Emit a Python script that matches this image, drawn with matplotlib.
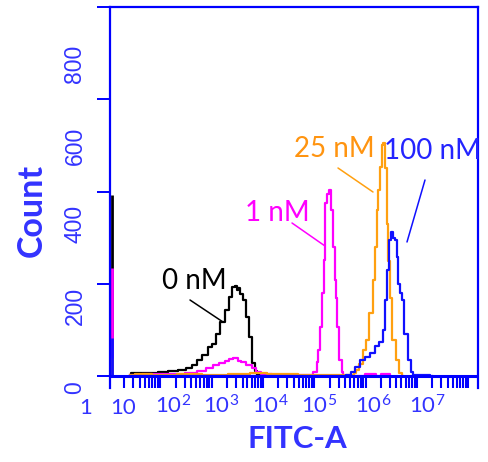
import numpy as np
import matplotlib.pyplot as plt
from matplotlib.ticker import LogLocator

# --- data (x in log10 FITC units, y in counts)
x_0nM = [1.40, 1.45, 1.65, 1.85, 2.05, 2.23, 2.42, 2.56, 2.66, 2.75, 2.88, 2.98, 3.05, 3.12,
         3.21, 3.31, 3.37, 3.44, 3.47, 3.50, 3.53, 3.58, 3.63, 3.69, 3.76, 3.83, 3.86, 3.92, 4.00]
y_0nM = [0, 6, 7, 7, 8, 11, 13, 18, 24, 34, 45, 62, 70, 92,
         118, 143, 172, 192, 196, 186, 190, 178, 165, 128, 85, 28, 10, 3, 0]

x_1nM = [1.40, 1.80, 2.30, 2.60, 2.80, 2.95, 3.10, 3.20, 3.30, 3.37, 3.47, 3.55, 3.60, 3.73,
         3.83, 3.90, 4.00, 4.30, 4.60, 4.90, 5.03, 5.06, 5.09, 5.13, 5.16, 5.20, 5.22, 5.27,
         5.30, 5.34, 5.38, 5.42, 5.44, 5.46, 5.52, 5.55, 5.58, 5.95, 6.03, 6.20, 6.22, 6.36,
         6.46, 6.48]
y_1nM = [3, 4, 5, 6, 10, 17, 24, 28, 33, 36, 38, 33, 31, 24,
         17, 8, 4, 2, 2, 3, 8, 31, 56, 107, 179, 251, 374, 395,
         403, 360, 280, 208, 170, 107, 35, 9, 0, 0, 5, 5, 0, 5,
         5, 0]

x_25nM = [1.40, 1.60, 2.00, 2.50, 3.00, 3.50, 3.90, 4.20, 4.50, 4.80, 5.10, 5.40, 5.75, 5.78,
          5.84, 5.91, 5.99, 6.03, 6.10, 6.17, 6.20, 6.23, 6.26, 6.30, 6.33, 6.36, 6.40, 6.43,
          6.46, 6.49, 6.55, 6.62, 6.68, 6.72]
y_25nM = [3, 4, 3, 4, 3, 4, 6, 5, 4, 3, 2, 2, 2, 6,
          13, 27, 56, 78, 136, 208, 280, 360, 403, 454, 500, 505, 450, 330,
          250, 170, 78, 35, 6, 0]

x_100nM = [1.40, 2.50, 3.50, 4.50, 5.50, 5.70, 5.74, 5.84, 5.94, 6.03, 6.13, 6.23, 6.30, 6.36,
           6.40, 6.44, 6.47, 6.52, 6.56, 6.59, 6.62, 6.66, 6.69, 6.72, 6.78, 6.85, 6.91, 6.95,
           7.00, 7.20, 7.30]
y_100nM = [1, 1, 1, 1, 1, 2, 9, 20, 35, 42, 49, 64, 74, 100,
           165, 230, 295, 313, 300, 295, 259, 200, 179, 165, 92, 35, 9, 3,
           2, 2, 0]

# pile-up of events at the low edge of the axis
spike_x = 1.05
spike_counts = [392, 234, 40, 82]   # 0, 1, 25, 100 nM

labels = ['0 nM', '1 nM', '25 nM', '100 nM']
colors = ['#000000', '#ff00ff', '#ffa010', '#1010ff']
text_colors = ['#000000', '#ff00ff', '#ff9410', '#2424ff']

xtick_labels = ['1', '10', r'$\mathregular{10^{2}}$', r'$\mathregular{10^{3}}$',
                r'$\mathregular{10^{4}}$', r'$\mathregular{10^{5}}$',
                r'$\mathregular{10^{6}}$', r'$\mathregular{10^{7}}$']
ytick_values = [0, 200, 400, 600, 800]

BLUE = '#0000ff'
LBLUE = '#3333ff'
W, H = 488, 462

plt.rcParams['font.family'] = ['Lato', 'DejaVu Sans']
plt.rcParams['mathtext.default'] = 'regular'

fig = plt.figure(figsize=(W / 100, H / 100), dpi=100)
ax = fig.add_axes([110 / W, 1 - 388 / H, 368 / W, 381 / H])


def px(x, y):
    # figure pixels measured from the top-left corner
    return (x, H - y)


series = [(x_0nM, y_0nM), (x_1nM, y_1nM), (x_25nM, y_25nM), (x_100nM, y_100nM)]
for (lx, cnt), col in zip(series, colors):
    ax.plot(10 ** np.array(lx), cnt, color=col, lw=1.6, drawstyle='steps-mid')

for i, (cnt, col) in enumerate(zip(spike_counts, colors)):
    ax.vlines(10 ** (spike_x + 0.006 * (i % 2)), 0, cnt, color=col, lw=2)

ax.axhline(0, color=BLUE, lw=2.2, zorder=5)

ax.set_xscale('log')
ax.set_xlim(10 ** 1.02, 10 ** 8.19)
ax.set_ylim(-26, 800)

for side in ['left', 'right', 'top']:
    ax.spines[side].set_color(BLUE)
    ax.spines[side].set_linewidth(1.6)
ax.spines['bottom'].set_visible(False)

ax.set_yticks(ytick_values)
ax.tick_params(axis='y', direction='out', length=9.5, width=1.4, color=BLUE, labelleft=False)
ax.xaxis.set_major_locator(LogLocator(base=10, numticks=20))
ax.xaxis.set_minor_locator(LogLocator(base=10, subs=np.arange(2, 10), numticks=20))
ax.tick_params(axis='x', which='both', direction='in', length=8.6, width=1.5, color=BLUE,
               labelbottom=False, bottom=True, top=False)

# tick labels (pasted over the plot in the original, not aligned to the ticks)
xlab_pos = [86, 123.5, 173, 221.5, 270.5, 319.5, 373.5, 427]
for lab, xp in zip(xtick_labels, xlab_pos):
    fig.text(*px(xp, 414), lab, transform=None, ha='center', va='baseline',
             fontsize=16, color=LBLUE)

ylab_pos = [388, 306, 223.5, 146, 63.5]
for v, yp in zip(ytick_values, ylab_pos):
    fig.text(*px(75, yp), str(v), transform=None, ha='center', va='center', rotation=90,
             fontsize=16.5, color=LBLUE, family=['Liberation Sans', 'DejaVu Sans'])

fig.text(*px(32, 210), 'Count', transform=None, ha='center', va='center', rotation=90,
         fontsize=24.5, fontweight='bold', color=LBLUE)
fig.text(*px(297.5, 448), 'FITC-A', transform=None, ha='center', va='baseline',
         fontsize=22.5, fontweight='bold', color=LBLUE)

# curve labels with pointer lines
label_pos = [(194.5, 289), (277.5, 221), (334.5, 157), (432, 159)]
pointers = [((190, 300), (223, 322)), ((292, 223), (325, 246)),
            ((338, 168), (373, 192)), ((425, 180), (407, 242))]
for lab, tc, col, (lx, ly), (p0, p1) in zip(labels, text_colors, colors, label_pos, pointers):
    fig.text(*px(lx, ly), lab, transform=None, ha='center', va='baseline',
             fontsize=20, color=tc)
    ax.annotate('', xy=px(*p1), xytext=px(*p0), xycoords='figure pixels',
                textcoords='figure pixels',
                arrowprops=dict(arrowstyle='-', color=col, lw=1.1, shrinkA=0, shrinkB=0))

fig.savefig('out.png', dpi=100)
